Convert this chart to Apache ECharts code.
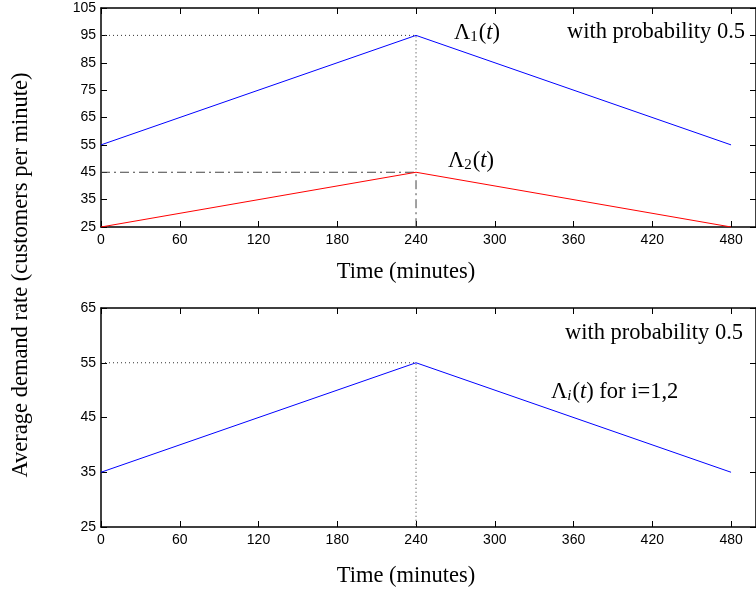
<!DOCTYPE html>
<html><head><meta charset="utf-8">
<script src="https://cdn.jsdelivr.net/npm/echarts@6/dist/echarts.min.js"></script>
<style>html,body{margin:0;padding:0;background:#fff}#c{width:756px;height:592px}</style>
</head><body><div id="c"></div>
<script>
// ---- data ----
const time = [0, 240, 480];
const lambda1 = [55, 95, 55];
const lambda2 = [25, 45, 25];
const lambdaI = [35, 55, 35];
// reference guides (top panel)
const refTop1Time = [0, 240, 240];
const refTop1Val = [95, 95, 45];
const refTop2Time = [0, 240, 240];
const refTop2Val = [45, 45, 25];
// reference guides (bottom panel)
const refBotTime = [0, 240, 240];
const refBotVal = [55, 55, 25];
// ticks
const xTicks = [0, 60, 120, 180, 240, 300, 360, 420, 480];
const yTicksTop = [25, 35, 45, 55, 65, 75, 85, 95, 105];
const yTicksBot = [25, 35, 45, 55, 65];

const zip = (a, b) => a.map((v, i) => [v, b[i]]);
const chart = echarts.init(document.getElementById('c'), null, {renderer: 'canvas'});
const axisLS = {color: '#000', width: 1.5};
const tickLS = {color: '#000', width: 1};
const lblStyle = {color: '#000', fontFamily: 'Liberation Sans', fontSize: 14, margin: 5};
const serif = 'Liberation Serif';
const SF = 22.5;

function xAx(g, pos, labels) {
  return {gridIndex: g, type: 'value', min: 0, max: 499, position: pos,
    axisLine: {show: true, onZero: false, lineStyle: axisLS},
    axisTick: {show: true, inside: true, length: 6, customValues: xTicks, lineStyle: tickLS},
    axisLabel: labels ? Object.assign({customValues: xTicks}, lblStyle, {margin: 6}) : {show: false},
    splitLine: {show: false}};
}
function yAx(g, pos, labels, min, max, ticks) {
  return {gridIndex: g, type: 'value', min: min, max: max, position: pos,
    axisLine: {show: true, onZero: false, lineStyle: axisLS},
    axisTick: {show: true, inside: true, length: 6, customValues: ticks, lineStyle: tickLS},
    axisLabel: labels ? Object.assign({customValues: ticks}, lblStyle) : {show: false},
    splitLine: {show: false}};
}
function line(name, xi, yi, data, color, type, width) {
  return {name: name, type: 'line', xAxisIndex: xi, yAxisIndex: yi, data: data, symbol: 'none',
    animation: false, silent: true, lineStyle: {color: color, width: width || 1, type: type || 'solid'}};
}
const dotted = [1, 3];
const dashdot = [9, 4, 2, 4];
const rich = {
  a: {fontFamily: serif, fontSize: SF},
  i: {fontFamily: serif, fontSize: SF, fontStyle: 'italic'},
  s: {fontFamily: serif, fontSize: 15, padding: [9, 1, 0, 0]},
  si: {fontFamily: serif, fontSize: 15, fontStyle: 'italic', padding: [9, 1, 0, 0]}
};
const font = SF + 'px "Liberation Serif"';

chart.setOption({
  animation: false,
  grid: [
    {left: 101, top: 8, width: 657, height: 219},
    {left: 101, top: 308, width: 657, height: 219}
  ],
  xAxis: [xAx(0, 'bottom', true), xAx(0, 'top', false), xAx(1, 'bottom', true), xAx(1, 'top', false)],
  yAxis: [yAx(0, 'left', true, 25, 105, yTicksTop), yAx(0, 'right', false, 25, 105, yTicksTop),
          yAx(1, 'left', true, 25, 65, yTicksBot), yAx(1, 'right', false, 25, 65, yTicksBot)],
  series: [
    line('ref1', 0, 0, zip(refTop1Time, refTop1Val), '#333', dotted),
    line('ref2', 0, 0, zip(refTop2Time, refTop2Val), '#444', dashdot),
    line('Λ1', 0, 0, zip(time, lambda1), '#0000ff'),
    line('Λ2', 0, 0, zip(time, lambda2), '#ff0000'),
    line('ref3', 2, 2, zip(refBotTime, refBotVal), '#333', dotted),
    line('Λi', 2, 2, zip(time, lambdaI), '#0000ff')
  ],
  graphic: [
    {type: 'text', x: 406, y: 272, style: {text: 'Time (minutes)', font: font, fill: '#000', align: 'center', verticalAlign: 'middle'}},
    {type: 'text', x: 406, y: 576, style: {text: 'Time (minutes)', font: font, fill: '#000', align: 'center', verticalAlign: 'middle'}},
    {type: 'text', x: 21, y: 275, rotation: Math.PI / 2, style: {text: 'Average demand rate (customers per minute)', font: font, fill: '#000', align: 'center', verticalAlign: 'middle'}},
    {type: 'text', x: 745, y: 32, style: {text: 'with probability 0.5', font: font, fill: '#000', align: 'right', verticalAlign: 'middle'}},
    {type: 'text', x: 743, y: 333, style: {text: 'with probability 0.5', font: font, fill: '#000', align: 'right', verticalAlign: 'middle'}},
    {type: 'text', x: 454, y: 33, style: {text: '{a|Λ}{s|1}{a|(}{i|t}{a|)}', fill: '#000', align: 'left', verticalAlign: 'middle', rich: rich}},
    {type: 'text', x: 448, y: 161, style: {text: '{a|Λ}{s|2}{a|(}{i|t}{a|)}', fill: '#000', align: 'left', verticalAlign: 'middle', rich: rich}},
    {type: 'text', x: 551, y: 392, style: {text: '{a|Λ}{si|i}{a|(}{i|t}{a|) for i=1,2}', fill: '#000', align: 'left', verticalAlign: 'middle', rich: rich}}
  ]
});
</script></body></html>
